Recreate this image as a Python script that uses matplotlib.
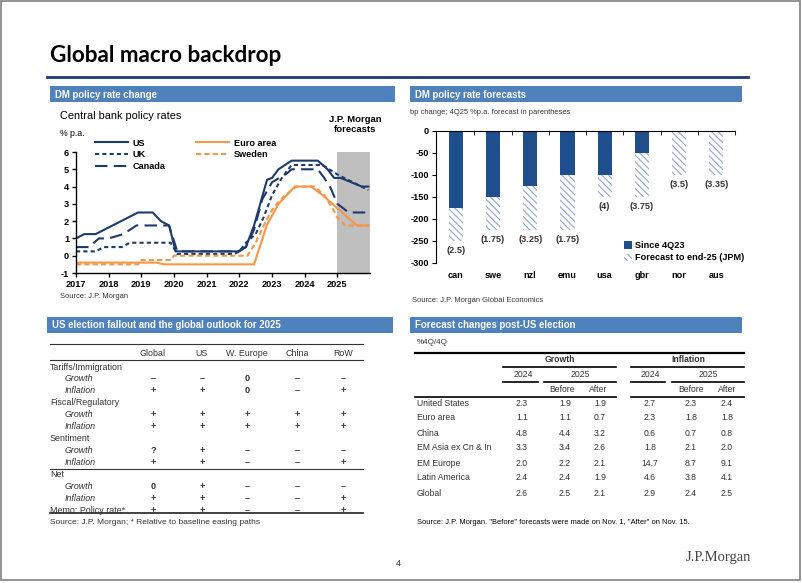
import matplotlib
matplotlib.use("Agg")
import matplotlib.pyplot as plt
from matplotlib.patches import Rectangle

plt.rcParams['font.family'] = ['Liberation Sans', 'DejaVu Sans']
plt.rcParams['hatch.linewidth'] = 0.8
plt.rcParams['axes.unicode_minus'] = False

W, H = 802, 583
NAVY = '#1F3A6E'
ORANGE = '#F79646'
HEAD = '#4F81BD'
TXT = '#333333'

# Central bank policy rates, % p.a.
us_x = [2017.0, 2017.25, 2017.6, 2018.9, 2019.35, 2019.6, 2019.85, 2020.05, 2021.95, 2022.2,
        2022.45, 2022.85, 2023.0, 2023.2, 2023.6, 2024.4, 2024.7, 2024.9, 2025.1, 2025.75, 2025.95]
us_y = [1.0, 1.25, 1.25, 2.5, 2.5, 2.0, 1.75, 0.25, 0.25, 0.5,
        1.75, 4.4, 4.5, 5.0, 5.5, 5.5, 5.0, 4.5, 4.5, 4.0, 4.0]
uk_x = [2017.0, 2017.6, 2017.85, 2018.4, 2018.65, 2019.9, 2020.1, 2021.85, 2022.0, 2022.2,
        2022.5, 2022.75, 2023.0, 2023.3, 2023.6, 2024.55, 2024.75, 2025.0, 2025.95]
uk_y = [0.25, 0.25, 0.5, 0.5, 0.75, 0.75, 0.1, 0.1, 0.25, 0.75,
        1.25, 2.25, 3.5, 4.5, 5.25, 5.25, 5.0, 4.7, 3.8]
ca_x = [2017.0, 2017.4, 2017.7, 2018.0, 2018.45, 2018.85, 2019.85, 2020.1, 2022.0, 2022.2,
        2022.45, 2022.7, 2023.0, 2023.45, 2023.6, 2024.4, 2024.6, 2024.8, 2025.0, 2025.35, 2025.95]
ca_y = [0.5, 0.5, 1.0, 1.0, 1.25, 1.75, 1.75, 0.25, 0.25, 0.5,
        1.5, 3.25, 4.25, 4.75, 5.0, 5.0, 4.5, 3.9, 3.0, 2.5, 2.5]
ea_x = [2017.0, 2019.45, 2019.7, 2022.45, 2022.85, 2023.2, 2023.45, 2023.7, 2024.2, 2024.55,
        2024.85, 2025.0, 2025.45, 2025.6, 2025.95]
ea_y = [-0.4, -0.4, -0.5, -0.5, 1.8, 3.0, 3.5, 4.0, 4.0, 3.5,
        3.0, 2.75, 2.0, 1.75, 1.75]
se_x = [2017.0, 2018.9, 2019.0, 2019.9, 2020.0, 2022.25, 2022.5, 2022.75, 2022.95, 2023.15,
        2023.4, 2023.75, 2024.3, 2024.6, 2024.85, 2025.0, 2025.25, 2025.95]
se_y = [-0.5, -0.5, -0.25, -0.25, 0.0, 0.0, 0.75, 1.75, 2.5, 3.0,
        3.5, 4.0, 4.0, 3.5, 2.75, 2.2, 1.75, 1.75]
years = [2017, 2018, 2019, 2020, 2021, 2022, 2023, 2024, 2025]

# DM policy rate forecasts, bp change
countries = ['can', 'swe', 'nzl', 'emu', 'usa', 'gbr', 'nor', 'aus']
since_4q23 = [-175, -150, -125, -100, -100, -50, 0, 0]
fcst_end25 = [-75, -75, -100, -125, -50, -100, -100, -100]
rate_4q25 = ['2.5', '1.75', '3.25', '1.75', '4', '3.75', '3.5', '3.35']

# US election fallout table
fallout_cols = ['Global', 'US', 'W. Europe', 'China', 'RoW']
fallout_rows = [
    ('Tariffs/Immigration', None),
    ('Growth', ['–', '–', '0', '–', '–']),
    ('Inflation', ['+', '+', '0', '–', '+']),
    ('Fiscal/Regulatory', None),
    ('Growth', ['+', '+', '+', '+', '+']),
    ('Inflation', ['+', '+', '+', '+', '+']),
    ('Sentiment', None),
    ('Growth', ['?', '+', '–', '–', '–']),
    ('Inflation', ['+', '+', '–', '–', '+']),
    ('Net', None),
    ('Growth', ['0', '+', '–', '–', '–']),
    ('Inflation', ['+', '+', '–', '–', '+']),
    ('Memo: Policy rate*', ['+', '+', '–', '–', '+']),
]

# Forecast changes post-US election, %4Q/4Q
regions = ['United States', 'Euro area', 'China', 'EM Asia ex Cn & In', 'EM Europe',
           'Latin America', 'Global']
growth_2024 = ['2.3', '1.1', '4.8', '3.3', '2.0', '2.4', '2.6']
growth_before = ['1.9', '1.1', '4.4', '3.4', '2.2', '2.4', '2.5']
growth_after = ['1.9', '0.7', '3.2', '2.6', '2.1', '1.9', '2.1']
infl_2024 = ['2.7', '2.3', '0.6', '1.8', '14.7', '4.6', '2.9']
infl_before = ['2.3', '1.8', '0.7', '2.1', '8.7', '3.8', '2.4']
infl_after = ['2.4', '1.8', '0.8', '2.0', '9.1', '4.1', '2.5']


def px_axes(fig, l, t, r, b):
    return fig.add_axes([l / W, 1 - b / H, (r - l) / W, (b - t) / H])


fig = plt.figure(figsize=(W / 100, H / 100), dpi=100)
bg = fig.add_axes([0, 0, 1, 1])
bg.set_xlim(0, W)
bg.set_ylim(H, 0)
bg.axis('off')

# slide frame, title, headers
bg.add_patch(Rectangle((1, 1), W - 3, H - 4, fill=False, ec='#808080', lw=1.2))
bg.text(50, 56, 'Global macro backdrop', fontsize=16.2, fontweight='bold',
        family=['Lato', 'DejaVu Sans'], va='center', ha='left', color='black')
bg.plot([47, 748], [77, 77], color=NAVY, lw=2)
for (l, t, r, b, label) in [(50, 86, 395, 102, 'DM policy rate change'),
                            (410, 86, 742, 102, 'DM policy rate forecasts'),
                            (47, 317, 393, 333, 'US election fallout and the global outlook for 2025'),
                            (410, 317, 742, 333, 'Forecast changes post-US election')]:
    bg.add_patch(Rectangle((l, t), r - l, b - t, color=HEAD, lw=0))
    bg.text(l + 5, (t + b) / 2 + 0.5, label, color='white', fontsize=6.9, fontweight='bold',
            va='center', ha='left')

# ---------------- Central bank policy rates ----------------
bg.text(60, 116, 'Central bank policy rates', fontsize=7.9, va='center', color='black')
bg.text(60, 133, '% p.a.', fontsize=6.3, va='center', color='black')
bg.text(60, 297, 'Source: J.P. Morgan', fontsize=5.4, va='center', color=TXT)

ax = px_axes(fig, 76, 152, 370, 273)
ax.axvspan(2025, 2026, color='#BFBFBF', lw=0, zorder=0)
l_us, = ax.plot(us_x, us_y, color=NAVY, lw=1.5, label='US')
l_uk, = ax.plot(uk_x, uk_y, color=NAVY, lw=1.5, ls=(0, (2, 1.5)), label='UK')
l_ca, = ax.plot(ca_x, ca_y, color=NAVY, lw=1.5, ls=(0, (6, 3)), label='Canada')
l_ea, = ax.plot(ea_x, ea_y, color=ORANGE, lw=1.5, label='Euro area')
l_se, = ax.plot(se_x, se_y, color=ORANGE, lw=1.5, ls=(0, (2.5, 1.5)), label='Sweden')
ax.set_xlim(2017, 2026)
ax.set_ylim(-1, 6)
ax.set_xticks(years)
ax.set_xticklabels([str(y) for y in years])
ax.set_yticks(range(-1, 7))
for s in ['top', 'right']:
    ax.spines[s].set_visible(False)
for s in ['left', 'bottom']:
    ax.spines[s].set_linewidth(1.0)
ax.tick_params(labelsize=6.6, length=3, width=1.0, pad=2)
for t in ax.get_xticklabels() + ax.get_yticklabels():
    t.set_fontweight('bold')
leg_kw = dict(frameon=False, handlelength=3.6, handletextpad=0.5,
              labelspacing=0.3, borderpad=0, borderaxespad=0, loc='upper left',
              prop={'weight': 'bold', 'size': 6.6})
leg1 = ax.legend(handles=[l_us, l_uk, l_ca], bbox_to_anchor=(0.065, 1.11), **leg_kw)
ax.add_artist(leg1)
ax.legend(handles=[l_ea, l_se], bbox_to_anchor=(0.408, 1.11), **leg_kw)
ax.text(0.95, 1.23, 'J.P. Morgan\nforecasts', transform=ax.transAxes, ha='center', va='center',
        fontsize=6.8, fontweight='bold', linespacing=1.1)

# ---------------- DM policy rate forecasts ----------------
bg.text(410, 113, 'bp change; 4Q25 %p.a. forecast in parentheses', fontsize=5.4, va='center',
        color=TXT)
bg.text(412, 300, 'Source: J.P. Morgan Global Economics', fontsize=5.4, va='center', color=TXT)

bx = px_axes(fig, 436, 131, 735, 263)
pos = range(len(countries))
bx.bar(pos, since_4q23, width=0.38, color='#1F4E8C', label='Since 4Q23', zorder=2)
bx.bar(pos, fcst_end25, bottom=since_4q23, width=0.38, color='white', edgecolor='#8FA8CF',
       lw=0, hatch='\\' * 5, label='Forecast to end-25 (JPM)', zorder=2)
for i, (a, b, lab) in enumerate(zip(since_4q23, fcst_end25, rate_4q25)):
    bx.annotate(f'({lab})', (i, a + b), xytext=(0, -7), textcoords='offset points',
                ha='center', va='center', fontsize=6.6, fontweight='bold', color=TXT)
bx.set_xlim(-0.53, 7.47)
bx.set_ylim(-300, 0)
bx.set_yticks(range(-300, 1, 50))
bx.set_xticks(list(pos))
bx.set_xticklabels(countries)
bx.set_xticks([p + 0.5 for p in pos], minor=True)
for s in ['bottom', 'right']:
    bx.spines[s].set_visible(False)
bx.tick_params(axis='y', labelsize=6.6, length=3, pad=2)
bx.tick_params(axis='x', which='major', labelsize=6.6, length=0, pad=6)
bx.tick_params(axis='x', which='minor', top=True, bottom=False, direction='in', length=3)
for t in bx.get_xticklabels() + bx.get_yticklabels():
    t.set_fontweight('bold')
bx.legend(loc='upper left', bbox_to_anchor=(0.615, 0.2), frameon=False, borderpad=0,
          handlelength=0.8, handleheight=0.8, handletextpad=0.3, labelspacing=0.35,
          prop={'weight': 'bold', 'size': 6.6})

# ---------------- US election fallout table ----------------
col_x = [153, 202, 247, 297, 343]
bg.plot([50, 363], [344, 344], color=TXT, lw=0.8)
for x, c in zip(col_x, fallout_cols):
    bg.text(x, 353, c, ha='center', va='center', fontsize=6.4, color=TXT)
bg.plot([50, 363], [360, 360], color=TXT, lw=0.8)
y0, dy = 367, 11.95
for k, (name, vals) in enumerate(fallout_rows):
    y = y0 + k * dy
    if vals is None or name.startswith('Memo'):
        bg.text(50, y, name, ha='left', va='center', fontsize=6.4, color=TXT)
    else:
        bg.text(65, y, name, ha='left', va='center', fontsize=6.4, color=TXT, style='italic')
    if vals:
        for x, v in zip(col_x, vals):
            bg.text(x, y, v, ha='center', va='center', fontsize=6.6, fontweight='bold',
                    color=TXT)
bg.plot([50, 363], [469, 469], color=TXT, lw=0.8)
bg.plot([50, 363], [512.5, 512.5], color=TXT, lw=1.3)
bg.text(50, 523, 'Source: J.P. Morgan; * Relative to baseline easing paths', ha='left',
        va='center', fontsize=6.0, color=TXT)

# ---------------- Forecast changes table ----------------
bg.text(417, 343, '%4Q/4Q', ha='left', va='center', fontsize=5.8, color=TXT)
bg.plot([415, 744], [353, 353], color='black', lw=1.6)
bg.text(560, 359.5, 'Growth', ha='center', va='center', fontsize=6.2, fontweight='bold', color=TXT)
bg.text(688, 359.5, 'Inflation', ha='center', va='center', fontsize=6.2, fontweight='bold',
        color=TXT)
for xs in [(503, 616), (631, 744)]:
    bg.plot(xs, [367, 367], color='black', lw=1.2)
for xs in [(503, 538), (544, 616), (631, 665), (672, 744)]:
    bg.plot(xs, [382, 382], color='black', lw=1.2)
for x, lab in [(523, '2024'), (580, '2025'), (650, '2024'), (708, '2025')]:
    bg.text(x, 374.5, lab, ha='center', va='center', fontsize=6.2, color=TXT)
for x, lab in [(562, 'Before'), (598, 'After'), (691, 'Before'), (727, 'After')]:
    bg.text(x, 390, lab, ha='center', va='center', fontsize=6.2, color=TXT)
for xs in [(415, 616), (631, 744)]:
    bg.plot(xs, [397, 397], color='black', lw=1.2)
value_cols = [growth_2024, growth_before, growth_after, infl_2024, infl_before, infl_after]
value_x = [522, 565, 600, 650, 691, 727]
for i, name in enumerate(regions):
    y = 403 + i * 15
    bg.text(417, y, name, ha='left', va='center', fontsize=6.2, color=TXT)
    for x, col in zip(value_x, value_cols):
        bg.text(x, y, col[i], ha='center', va='center', fontsize=6.2, color=TXT)
bg.text(417, 522, 'Source: J.P. Morgan. "Before" forecasts were made on Nov. 1, "After" on Nov. 15.',
        ha='left', va='center', fontsize=5.4, color='black')

# footer
bg.text(398, 563, '4', ha='center', va='center', fontsize=6.5, color=TXT)
bg.text(718, 557, 'J.P.Morgan', ha='center', va='center', fontsize=10.5,
        family=['Liberation Serif', 'DejaVu Serif'], color='#444444')

fig.savefig('out.png', dpi=100)
